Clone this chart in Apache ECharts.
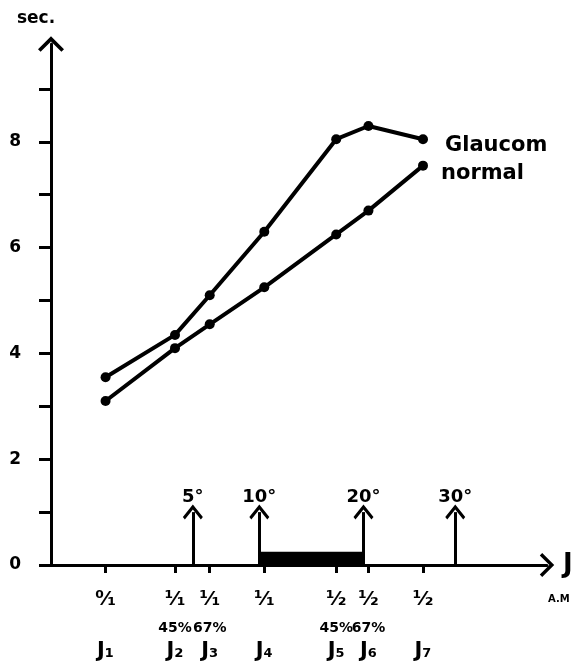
<!DOCTYPE html>
<html>
<head>
<meta charset="utf-8">
<script src="https://cdn.jsdelivr.net/npm/echarts@6/dist/echarts.min.js"></script>
<style>
  html, body {margin: 0; padding: 0; background: #fff;}
  #chart {width: 581px; height: 669px;}
</style>
</head>
<body>
<div id="chart"></div>
<script>
// positions des stimuli J1..J7 sur l'axe (unites arbitraires 0-100)
var xPos = [11, 25, 32, 43, 57.5, 64, 75];
var fracLabels = ['⁰⁄₁', '¹⁄₁', '¹⁄₁', '¹⁄₁', '¹⁄₂', '¹⁄₂', '¹⁄₂'];
var pctLabels = ['', '45%', '67%', '', '45%', '67%', ''];
var jLabels = ['J₁', 'J₂', 'J₃', 'J₄', 'J₅', 'J₆', 'J₇'];

// temps en secondes
var glaucom = [3.55, 4.35, 5.1, 6.3, 8.05, 8.3, 8.05];
var normal = [3.1, 4.1, 4.55, 5.25, 6.25, 6.7, 7.55];

// excentricites
var arrowX = [28.6, 42, 63, 81.5];
var arrowLabels = ['5°', '10°', '20°', '30°'];
var arrowHeight = 1;
var barRange = [42, 63];
var barHeight = 0.25;

var yTicks = [0, 1, 2, 3, 4, 5, 6, 7, 8, 9];
var yLabels = [0, 2, 4, 6, 8];

var FONT = 'DejaVu Sans';
var chevron = 'path://M0,0 L10,10 L8,12 L0,4 L-8,12 L-10,10 Z';

var zip = function (xs, ys) {
    var out = [];
    for (var i = 0; i < xs.length; i++) {
        out.push([xs[i], ys[i]]);
    }
    return out;
};

var arrowLines = [];
for (var i = 0; i < arrowX.length; i++) {
    arrowLines.push([
        {coord: [arrowX[i], 0], name: arrowLabels[i]},
        {coord: [arrowX[i], arrowHeight]}
    ]);
}

var chart = echarts.init(document.getElementById('chart'));
var lineStyle = {color: '#000', width: 4};

chart.setOption({
    animation: false,
    backgroundColor: '#fff',
    grid: {left: 51, right: 34, top: 44, bottom: 104},
    xAxis: {
        type: 'value', min: 0, max: 100,
        splitLine: {show: false},
        name: 'J', nameLocation: 'end', nameGap: 16,
        nameTextStyle: {color: '#000', fontFamily: FONT, fontWeight: 'bold', fontSize: 26},
        axisLine: {
            lineStyle: {color: '#000', width: 3},
            symbol: ['none', chevron], symbolSize: [24, 20]
        },
        axisTick: {
            show: true, length: 8, lineStyle: {color: '#000', width: 3},
            customValues: xPos
        },
        axisLabel: {
            customValues: xPos, margin: 20,
            formatter: function (v) {
                var i = xPos.indexOf(v);
                if (i < 0) return '';
                return '{f|' + fracLabels[i] + '}\n{p|' + (pctLabels[i] || ' ') + '}\n{j|' + jLabels[i] + '}';
            },
            rich: {
                f: {fontFamily: FONT, fontWeight: 'bold', fontSize: 20, lineHeight: 30, color: '#000'},
                p: {fontFamily: FONT, fontWeight: 'bold', fontSize: 14, lineHeight: 26, color: '#000'},
                j: {fontFamily: FONT, fontWeight: 'bold', fontSize: 21, lineHeight: 22, color: '#000'}
            }
        }
    },
    yAxis: {
        type: 'value', min: 0, max: 9.85,
        splitLine: {show: false},
        name: 'sec.', nameLocation: 'end', nameGap: 17,
        nameTextStyle: {color: '#000', fontFamily: FONT, fontWeight: 'bold', fontSize: 17,
            align: 'center', padding: [0, 30, 0, 0]},
        axisLine: {
            show: true,
            lineStyle: {color: '#000', width: 3},
            symbol: ['none', chevron], symbolSize: [26, 17]
        },
        axisTick: {
            show: true, length: 12, lineStyle: {color: '#000', width: 3},
            customValues: yTicks
        },
        axisLabel: {
            customValues: yLabels, margin: 30,
            color: '#000', fontFamily: FONT, fontWeight: 'bold', fontSize: 17
        }
    },
    graphic: [{
        type: 'text', left: 548, top: 594,
        style: {text: 'A.M', fill: '#000', font: 'bold 10px "DejaVu Sans"'}
    }],
    series: [{
        name: 'Glaucom', type: 'line',
        data: zip(xPos, glaucom),
        symbol: 'circle', symbolSize: 10,
        itemStyle: {color: '#000'}, lineStyle: lineStyle,
        endLabel: {
            show: true, formatter: '{a}', distance: 22, offset: [0, 6],
            color: '#000', fontFamily: FONT, fontWeight: 'bold', fontSize: 21
        },
        markLine: {
            silent: true, symbol: ['none', chevron], symbolSize: [20, 15],
            lineStyle: {color: '#000', width: 3, type: 'solid'},
            label: {
                show: true, position: 'end', distance: 6, formatter: '{b}',
                color: '#000', fontFamily: FONT, fontWeight: 'bold', fontSize: 18
            },
            data: arrowLines
        },
        markArea: {
            silent: true,
            itemStyle: {color: '#000'},
            data: [[{coord: [barRange[0], 0]}, {coord: [barRange[1], barHeight]}]]
        }
    }, {
        name: 'normal', type: 'line',
        data: zip(xPos, normal),
        symbol: 'circle', symbolSize: 10,
        itemStyle: {color: '#000'}, lineStyle: lineStyle,
        endLabel: {
            show: true, formatter: '{a}', distance: 18, offset: [0, 8],
            color: '#000', fontFamily: FONT, fontWeight: 'bold', fontSize: 21
        }
    }]
});
</script>
</body>
</html>
